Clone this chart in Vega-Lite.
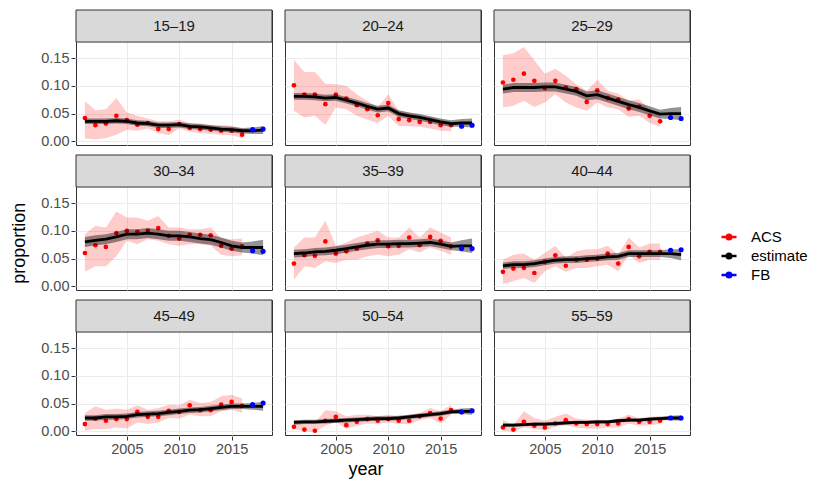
{
  "$schema": "https://vega.github.io/schema/vega-lite/v6.json",
  "description": "Proportion by age group and year: ACS, FB and smoothed estimate.",
  "background": "#ffffff",
  "padding": {"left": 10, "top": 8, "right": 0, "bottom": 0},
  "title": {"text": "proportion", "orient": "left", "anchor": "middle", "offset": 12, "font": "Liberation Sans", "fontSize": 18, "fontWeight": "normal", "color": "#000000"},
  "vconcat": [{
  "title": {"text": "year", "orient": "bottom", "anchor": "middle", "offset": 5, "font": "Liberation Sans", "fontSize": 18, "fontWeight": "normal", "color": "#000000"},
  "data": {"values": [
    {"age":"15–19","year":2001,"kind":"estimate","value":0.036,"lo":0.031,"hi":0.041},
    {"age":"15–19","year":2002,"kind":"estimate","value":0.036,"lo":0.031,"hi":0.041},
    {"age":"15–19","year":2003,"kind":"estimate","value":0.036,"lo":0.031,"hi":0.041},
    {"age":"15–19","year":2004,"kind":"estimate","value":0.037,"lo":0.032,"hi":0.042},
    {"age":"15–19","year":2005,"kind":"estimate","value":0.036,"lo":0.031,"hi":0.041},
    {"age":"15–19","year":2006,"kind":"estimate","value":0.033,"lo":0.028,"hi":0.038},
    {"age":"15–19","year":2007,"kind":"estimate","value":0.032,"lo":0.027,"hi":0.037},
    {"age":"15–19","year":2008,"kind":"estimate","value":0.029,"lo":0.024,"hi":0.034},
    {"age":"15–19","year":2009,"kind":"estimate","value":0.029,"lo":0.024,"hi":0.034},
    {"age":"15–19","year":2010,"kind":"estimate","value":0.030,"lo":0.025,"hi":0.035},
    {"age":"15–19","year":2011,"kind":"estimate","value":0.027,"lo":0.022,"hi":0.032},
    {"age":"15–19","year":2012,"kind":"estimate","value":0.026,"lo":0.021,"hi":0.031},
    {"age":"15–19","year":2013,"kind":"estimate","value":0.024,"lo":0.019,"hi":0.029},
    {"age":"15–19","year":2014,"kind":"estimate","value":0.022,"lo":0.017,"hi":0.027},
    {"age":"15–19","year":2015,"kind":"estimate","value":0.021,"lo":0.016,"hi":0.026},
    {"age":"15–19","year":2016,"kind":"estimate","value":0.019,"lo":0.014,"hi":0.024},
    {"age":"15–19","year":2017,"kind":"estimate","value":0.019,"lo":0.013,"hi":0.025},
    {"age":"15–19","year":2018,"kind":"estimate","value":0.020,"lo":0.013,"hi":0.027},
    {"age":"15–19","year":2001,"kind":"ACS","value":0.042,"lo":0.005,"hi":0.072},
    {"age":"15–19","year":2002,"kind":"ACS","value":0.029,"lo":0.003,"hi":0.056},
    {"age":"15–19","year":2003,"kind":"ACS","value":0.032,"lo":0.006,"hi":0.058},
    {"age":"15–19","year":2004,"kind":"ACS","value":0.046,"lo":0.012,"hi":0.078},
    {"age":"15–19","year":2005,"kind":"ACS","value":0.038,"lo":0.021,"hi":0.052},
    {"age":"15–19","year":2006,"kind":"ACS","value":0.030,"lo":0.019,"hi":0.046},
    {"age":"15–19","year":2007,"kind":"ACS","value":0.033,"lo":0.023,"hi":0.041},
    {"age":"15–19","year":2008,"kind":"ACS","value":0.022,"lo":0.015,"hi":0.036},
    {"age":"15–19","year":2009,"kind":"ACS","value":0.022,"lo":0.011,"hi":0.036},
    {"age":"15–19","year":2010,"kind":"ACS","value":0.031,"lo":0.023,"hi":0.039},
    {"age":"15–19","year":2011,"kind":"ACS","value":0.024,"lo":0.017,"hi":0.033},
    {"age":"15–19","year":2012,"kind":"ACS","value":0.022,"lo":0.015,"hi":0.032},
    {"age":"15–19","year":2013,"kind":"ACS","value":0.021,"lo":0.013,"hi":0.030},
    {"age":"15–19","year":2014,"kind":"ACS","value":0.019,"lo":0.012,"hi":0.029},
    {"age":"15–19","year":2015,"kind":"ACS","value":0.019,"lo":0.011,"hi":0.028},
    {"age":"15–19","year":2016,"kind":"ACS","value":0.012,"lo":0.006,"hi":0.023},
    {"age":"15–19","year":2017,"kind":"FB","value":0.021},
    {"age":"15–19","year":2018,"kind":"FB","value":0.022},

    {"age":"20–24","year":2001,"kind":"estimate","value":0.081,"lo":0.075,"hi":0.087},
    {"age":"20–24","year":2002,"kind":"estimate","value":0.081,"lo":0.075,"hi":0.087},
    {"age":"20–24","year":2003,"kind":"estimate","value":0.080,"lo":0.074,"hi":0.086},
    {"age":"20–24","year":2004,"kind":"estimate","value":0.078,"lo":0.072,"hi":0.084},
    {"age":"20–24","year":2005,"kind":"estimate","value":0.079,"lo":0.073,"hi":0.085},
    {"age":"20–24","year":2006,"kind":"estimate","value":0.074,"lo":0.068,"hi":0.080},
    {"age":"20–24","year":2007,"kind":"estimate","value":0.069,"lo":0.063,"hi":0.075},
    {"age":"20–24","year":2008,"kind":"estimate","value":0.063,"lo":0.057,"hi":0.069},
    {"age":"20–24","year":2009,"kind":"estimate","value":0.058,"lo":0.052,"hi":0.064},
    {"age":"20–24","year":2010,"kind":"estimate","value":0.060,"lo":0.054,"hi":0.066},
    {"age":"20–24","year":2011,"kind":"estimate","value":0.050,"lo":0.044,"hi":0.056},
    {"age":"20–24","year":2012,"kind":"estimate","value":0.046,"lo":0.040,"hi":0.052},
    {"age":"20–24","year":2013,"kind":"estimate","value":0.043,"lo":0.037,"hi":0.049},
    {"age":"20–24","year":2014,"kind":"estimate","value":0.039,"lo":0.033,"hi":0.045},
    {"age":"20–24","year":2015,"kind":"estimate","value":0.035,"lo":0.029,"hi":0.041},
    {"age":"20–24","year":2016,"kind":"estimate","value":0.032,"lo":0.026,"hi":0.038},
    {"age":"20–24","year":2017,"kind":"estimate","value":0.033,"lo":0.026,"hi":0.040},
    {"age":"20–24","year":2018,"kind":"estimate","value":0.033,"lo":0.025,"hi":0.041},
    {"age":"20–24","year":2001,"kind":"ACS","value":0.101,"lo":0.055,"hi":0.147},
    {"age":"20–24","year":2002,"kind":"ACS","value":0.084,"lo":0.043,"hi":0.125},
    {"age":"20–24","year":2003,"kind":"ACS","value":0.084,"lo":0.046,"hi":0.125},
    {"age":"20–24","year":2004,"kind":"ACS","value":0.067,"lo":0.030,"hi":0.104},
    {"age":"20–24","year":2005,"kind":"ACS","value":0.084,"lo":0.061,"hi":0.103},
    {"age":"20–24","year":2006,"kind":"ACS","value":0.077,"lo":0.058,"hi":0.100},
    {"age":"20–24","year":2007,"kind":"ACS","value":0.065,"lo":0.046,"hi":0.085},
    {"age":"20–24","year":2008,"kind":"ACS","value":0.058,"lo":0.039,"hi":0.073},
    {"age":"20–24","year":2009,"kind":"ACS","value":0.047,"lo":0.033,"hi":0.061},
    {"age":"20–24","year":2010,"kind":"ACS","value":0.069,"lo":0.046,"hi":0.085},
    {"age":"20–24","year":2011,"kind":"ACS","value":0.040,"lo":0.027,"hi":0.055},
    {"age":"20–24","year":2012,"kind":"ACS","value":0.038,"lo":0.027,"hi":0.052},
    {"age":"20–24","year":2013,"kind":"ACS","value":0.035,"lo":0.026,"hi":0.047},
    {"age":"20–24","year":2014,"kind":"ACS","value":0.035,"lo":0.023,"hi":0.044},
    {"age":"20–24","year":2015,"kind":"ACS","value":0.029,"lo":0.019,"hi":0.039},
    {"age":"20–24","year":2016,"kind":"ACS","value":0.029,"lo":0.018,"hi":0.036},
    {"age":"20–24","year":2017,"kind":"FB","value":0.027},
    {"age":"20–24","year":2018,"kind":"FB","value":0.029},

    {"age":"25–29","year":2001,"kind":"estimate","value":0.094,"lo":0.086,"hi":0.102},
    {"age":"25–29","year":2002,"kind":"estimate","value":0.097,"lo":0.089,"hi":0.105},
    {"age":"25–29","year":2003,"kind":"estimate","value":0.097,"lo":0.089,"hi":0.105},
    {"age":"25–29","year":2004,"kind":"estimate","value":0.097,"lo":0.089,"hi":0.105},
    {"age":"25–29","year":2005,"kind":"estimate","value":0.098,"lo":0.090,"hi":0.106},
    {"age":"25–29","year":2006,"kind":"estimate","value":0.098,"lo":0.090,"hi":0.106},
    {"age":"25–29","year":2007,"kind":"estimate","value":0.094,"lo":0.086,"hi":0.102},
    {"age":"25–29","year":2008,"kind":"estimate","value":0.090,"lo":0.082,"hi":0.098},
    {"age":"25–29","year":2009,"kind":"estimate","value":0.082,"lo":0.074,"hi":0.090},
    {"age":"25–29","year":2010,"kind":"estimate","value":0.084,"lo":0.076,"hi":0.092},
    {"age":"25–29","year":2011,"kind":"estimate","value":0.078,"lo":0.070,"hi":0.086},
    {"age":"25–29","year":2012,"kind":"estimate","value":0.072,"lo":0.064,"hi":0.080},
    {"age":"25–29","year":2013,"kind":"estimate","value":0.066,"lo":0.058,"hi":0.074},
    {"age":"25–29","year":2014,"kind":"estimate","value":0.061,"lo":0.053,"hi":0.069},
    {"age":"25–29","year":2015,"kind":"estimate","value":0.055,"lo":0.047,"hi":0.063},
    {"age":"25–29","year":2016,"kind":"estimate","value":0.049,"lo":0.041,"hi":0.057},
    {"age":"25–29","year":2017,"kind":"estimate","value":0.050,"lo":0.040,"hi":0.060},
    {"age":"25–29","year":2018,"kind":"estimate","value":0.050,"lo":0.038,"hi":0.062},
    {"age":"25–29","year":2001,"kind":"ACS","value":0.106,"lo":0.061,"hi":0.155},
    {"age":"25–29","year":2002,"kind":"ACS","value":0.111,"lo":0.064,"hi":0.159},
    {"age":"25–29","year":2003,"kind":"ACS","value":0.122,"lo":0.073,"hi":0.170},
    {"age":"25–29","year":2004,"kind":"ACS","value":0.109,"lo":0.062,"hi":0.146},
    {"age":"25–29","year":2005,"kind":"ACS","value":0.096,"lo":0.070,"hi":0.122},
    {"age":"25–29","year":2006,"kind":"ACS","value":0.109,"lo":0.085,"hi":0.131},
    {"age":"25–29","year":2007,"kind":"ACS","value":0.097,"lo":0.070,"hi":0.118},
    {"age":"25–29","year":2008,"kind":"ACS","value":0.094,"lo":0.061,"hi":0.103},
    {"age":"25–29","year":2009,"kind":"ACS","value":0.071,"lo":0.055,"hi":0.091},
    {"age":"25–29","year":2010,"kind":"ACS","value":0.092,"lo":0.070,"hi":0.111},
    {"age":"25–29","year":2011,"kind":"ACS","value":0.078,"lo":0.061,"hi":0.091},
    {"age":"25–29","year":2012,"kind":"ACS","value":0.075,"lo":0.058,"hi":0.086},
    {"age":"25–29","year":2013,"kind":"ACS","value":0.059,"lo":0.044,"hi":0.073},
    {"age":"25–29","year":2014,"kind":"ACS","value":0.062,"lo":0.046,"hi":0.076},
    {"age":"25–29","year":2015,"kind":"ACS","value":0.046,"lo":0.033,"hi":0.058},
    {"age":"25–29","year":2016,"kind":"ACS","value":0.036,"lo":0.026,"hi":0.052},
    {"age":"25–29","year":2017,"kind":"FB","value":0.043},
    {"age":"25–29","year":2018,"kind":"FB","value":0.041},

    {"age":"30–34","year":2001,"kind":"estimate","value":0.080,"lo":0.071,"hi":0.089},
    {"age":"30–34","year":2002,"kind":"estimate","value":0.083,"lo":0.074,"hi":0.092},
    {"age":"30–34","year":2003,"kind":"estimate","value":0.085,"lo":0.076,"hi":0.094},
    {"age":"30–34","year":2004,"kind":"estimate","value":0.089,"lo":0.080,"hi":0.098},
    {"age":"30–34","year":2005,"kind":"estimate","value":0.094,"lo":0.085,"hi":0.103},
    {"age":"30–34","year":2006,"kind":"estimate","value":0.094,"lo":0.085,"hi":0.103},
    {"age":"30–34","year":2007,"kind":"estimate","value":0.096,"lo":0.087,"hi":0.105},
    {"age":"30–34","year":2008,"kind":"estimate","value":0.094,"lo":0.085,"hi":0.103},
    {"age":"30–34","year":2009,"kind":"estimate","value":0.091,"lo":0.082,"hi":0.100},
    {"age":"30–34","year":2010,"kind":"estimate","value":0.091,"lo":0.082,"hi":0.100},
    {"age":"30–34","year":2011,"kind":"estimate","value":0.089,"lo":0.080,"hi":0.098},
    {"age":"30–34","year":2012,"kind":"estimate","value":0.086,"lo":0.077,"hi":0.095},
    {"age":"30–34","year":2013,"kind":"estimate","value":0.084,"lo":0.075,"hi":0.093},
    {"age":"30–34","year":2014,"kind":"estimate","value":0.079,"lo":0.070,"hi":0.088},
    {"age":"30–34","year":2015,"kind":"estimate","value":0.073,"lo":0.064,"hi":0.082},
    {"age":"30–34","year":2016,"kind":"estimate","value":0.070,"lo":0.061,"hi":0.079},
    {"age":"30–34","year":2017,"kind":"estimate","value":0.070,"lo":0.059,"hi":0.081},
    {"age":"30–34","year":2018,"kind":"estimate","value":0.070,"lo":0.056,"hi":0.084},
    {"age":"30–34","year":2001,"kind":"ACS","value":0.060,"lo":0.026,"hi":0.094},
    {"age":"30–34","year":2002,"kind":"ACS","value":0.074,"lo":0.036,"hi":0.109},
    {"age":"30–34","year":2003,"kind":"ACS","value":0.071,"lo":0.036,"hi":0.106},
    {"age":"30–34","year":2004,"kind":"ACS","value":0.096,"lo":0.054,"hi":0.135},
    {"age":"30–34","year":2005,"kind":"ACS","value":0.100,"lo":0.082,"hi":0.124},
    {"age":"30–34","year":2006,"kind":"ACS","value":0.098,"lo":0.076,"hi":0.124},
    {"age":"30–34","year":2007,"kind":"ACS","value":0.100,"lo":0.085,"hi":0.118},
    {"age":"30–34","year":2008,"kind":"ACS","value":0.105,"lo":0.082,"hi":0.127},
    {"age":"30–34","year":2009,"kind":"ACS","value":0.091,"lo":0.076,"hi":0.106},
    {"age":"30–34","year":2010,"kind":"ACS","value":0.086,"lo":0.073,"hi":0.106},
    {"age":"30–34","year":2011,"kind":"ACS","value":0.093,"lo":0.076,"hi":0.103},
    {"age":"30–34","year":2012,"kind":"ACS","value":0.093,"lo":0.076,"hi":0.103},
    {"age":"30–34","year":2013,"kind":"ACS","value":0.092,"lo":0.073,"hi":0.106},
    {"age":"30–34","year":2014,"kind":"ACS","value":0.073,"lo":0.057,"hi":0.087},
    {"age":"30–34","year":2015,"kind":"ACS","value":0.068,"lo":0.054,"hi":0.085},
    {"age":"30–34","year":2016,"kind":"ACS","value":0.072,"lo":0.056,"hi":0.086},
    {"age":"30–34","year":2017,"kind":"FB","value":0.064},
    {"age":"30–34","year":2018,"kind":"FB","value":0.063},

    {"age":"35–39","year":2001,"kind":"estimate","value":0.059,"lo":0.052,"hi":0.066},
    {"age":"35–39","year":2002,"kind":"estimate","value":0.060,"lo":0.053,"hi":0.067},
    {"age":"35–39","year":2003,"kind":"estimate","value":0.062,"lo":0.055,"hi":0.069},
    {"age":"35–39","year":2004,"kind":"estimate","value":0.063,"lo":0.056,"hi":0.070},
    {"age":"35–39","year":2005,"kind":"estimate","value":0.065,"lo":0.058,"hi":0.072},
    {"age":"35–39","year":2006,"kind":"estimate","value":0.068,"lo":0.061,"hi":0.075},
    {"age":"35–39","year":2007,"kind":"estimate","value":0.071,"lo":0.064,"hi":0.078},
    {"age":"35–39","year":2008,"kind":"estimate","value":0.074,"lo":0.067,"hi":0.081},
    {"age":"35–39","year":2009,"kind":"estimate","value":0.076,"lo":0.069,"hi":0.083},
    {"age":"35–39","year":2010,"kind":"estimate","value":0.076,"lo":0.069,"hi":0.083},
    {"age":"35–39","year":2011,"kind":"estimate","value":0.077,"lo":0.070,"hi":0.084},
    {"age":"35–39","year":2012,"kind":"estimate","value":0.077,"lo":0.070,"hi":0.084},
    {"age":"35–39","year":2013,"kind":"estimate","value":0.078,"lo":0.071,"hi":0.085},
    {"age":"35–39","year":2014,"kind":"estimate","value":0.079,"lo":0.072,"hi":0.086},
    {"age":"35–39","year":2015,"kind":"estimate","value":0.076,"lo":0.069,"hi":0.083},
    {"age":"35–39","year":2016,"kind":"estimate","value":0.072,"lo":0.065,"hi":0.079},
    {"age":"35–39","year":2017,"kind":"estimate","value":0.073,"lo":0.063,"hi":0.083},
    {"age":"35–39","year":2018,"kind":"estimate","value":0.073,"lo":0.060,"hi":0.086},
    {"age":"35–39","year":2001,"kind":"ACS","value":0.041,"lo":0.012,"hi":0.070},
    {"age":"35–39","year":2002,"kind":"ACS","value":0.056,"lo":0.036,"hi":0.088},
    {"age":"35–39","year":2003,"kind":"ACS","value":0.055,"lo":0.033,"hi":0.088},
    {"age":"35–39","year":2004,"kind":"ACS","value":0.081,"lo":0.045,"hi":0.118},
    {"age":"35–39","year":2005,"kind":"ACS","value":0.059,"lo":0.042,"hi":0.073},
    {"age":"35–39","year":2006,"kind":"ACS","value":0.063,"lo":0.048,"hi":0.079},
    {"age":"35–39","year":2007,"kind":"ACS","value":0.068,"lo":0.048,"hi":0.088},
    {"age":"35–39","year":2008,"kind":"ACS","value":0.077,"lo":0.054,"hi":0.094},
    {"age":"35–39","year":2009,"kind":"ACS","value":0.083,"lo":0.057,"hi":0.100},
    {"age":"35–39","year":2010,"kind":"ACS","value":0.072,"lo":0.054,"hi":0.088},
    {"age":"35–39","year":2011,"kind":"ACS","value":0.073,"lo":0.057,"hi":0.088},
    {"age":"35–39","year":2012,"kind":"ACS","value":0.088,"lo":0.067,"hi":0.106},
    {"age":"35–39","year":2013,"kind":"ACS","value":0.074,"lo":0.061,"hi":0.088},
    {"age":"35–39","year":2014,"kind":"ACS","value":0.089,"lo":0.070,"hi":0.106},
    {"age":"35–39","year":2015,"kind":"ACS","value":0.082,"lo":0.064,"hi":0.097},
    {"age":"35–39","year":2016,"kind":"ACS","value":0.072,"lo":0.057,"hi":0.088},
    {"age":"35–39","year":2017,"kind":"FB","value":0.068},
    {"age":"35–39","year":2018,"kind":"FB","value":0.068},

    {"age":"40–44","year":2001,"kind":"estimate","value":0.037,"lo":0.031,"hi":0.043},
    {"age":"40–44","year":2002,"kind":"estimate","value":0.039,"lo":0.033,"hi":0.045},
    {"age":"40–44","year":2003,"kind":"estimate","value":0.039,"lo":0.033,"hi":0.045},
    {"age":"40–44","year":2004,"kind":"estimate","value":0.041,"lo":0.035,"hi":0.047},
    {"age":"40–44","year":2005,"kind":"estimate","value":0.044,"lo":0.038,"hi":0.050},
    {"age":"40–44","year":2006,"kind":"estimate","value":0.047,"lo":0.041,"hi":0.053},
    {"age":"40–44","year":2007,"kind":"estimate","value":0.048,"lo":0.042,"hi":0.054},
    {"age":"40–44","year":2008,"kind":"estimate","value":0.048,"lo":0.042,"hi":0.054},
    {"age":"40–44","year":2009,"kind":"estimate","value":0.050,"lo":0.044,"hi":0.056},
    {"age":"40–44","year":2010,"kind":"estimate","value":0.051,"lo":0.045,"hi":0.057},
    {"age":"40–44","year":2011,"kind":"estimate","value":0.053,"lo":0.047,"hi":0.059},
    {"age":"40–44","year":2012,"kind":"estimate","value":0.054,"lo":0.048,"hi":0.060},
    {"age":"40–44","year":2013,"kind":"estimate","value":0.059,"lo":0.053,"hi":0.065},
    {"age":"40–44","year":2014,"kind":"estimate","value":0.059,"lo":0.053,"hi":0.065},
    {"age":"40–44","year":2015,"kind":"estimate","value":0.059,"lo":0.053,"hi":0.065},
    {"age":"40–44","year":2016,"kind":"estimate","value":0.059,"lo":0.053,"hi":0.065},
    {"age":"40–44","year":2017,"kind":"estimate","value":0.059,"lo":0.051,"hi":0.067},
    {"age":"40–44","year":2018,"kind":"estimate","value":0.057,"lo":0.047,"hi":0.067},
    {"age":"40–44","year":2001,"kind":"ACS","value":0.026,"lo":0.004,"hi":0.048},
    {"age":"40–44","year":2002,"kind":"ACS","value":0.032,"lo":0.009,"hi":0.057},
    {"age":"40–44","year":2003,"kind":"ACS","value":0.033,"lo":0.015,"hi":0.059},
    {"age":"40–44","year":2004,"kind":"ACS","value":0.024,"lo":0.006,"hi":0.048},
    {"age":"40–44","year":2005,"kind":"ACS","value":0.044,"lo":0.027,"hi":0.060},
    {"age":"40–44","year":2006,"kind":"ACS","value":0.056,"lo":0.036,"hi":0.073},
    {"age":"40–44","year":2007,"kind":"ACS","value":0.037,"lo":0.026,"hi":0.051},
    {"age":"40–44","year":2008,"kind":"ACS","value":0.048,"lo":0.033,"hi":0.063},
    {"age":"40–44","year":2009,"kind":"ACS","value":0.048,"lo":0.033,"hi":0.067},
    {"age":"40–44","year":2010,"kind":"ACS","value":0.050,"lo":0.036,"hi":0.067},
    {"age":"40–44","year":2011,"kind":"ACS","value":0.059,"lo":0.039,"hi":0.073},
    {"age":"40–44","year":2012,"kind":"ACS","value":0.041,"lo":0.027,"hi":0.057},
    {"age":"40–44","year":2013,"kind":"ACS","value":0.071,"lo":0.057,"hi":0.088},
    {"age":"40–44","year":2014,"kind":"ACS","value":0.054,"lo":0.042,"hi":0.070},
    {"age":"40–44","year":2015,"kind":"ACS","value":0.062,"lo":0.048,"hi":0.077},
    {"age":"40–44","year":2016,"kind":"ACS","value":0.062,"lo":0.048,"hi":0.077},
    {"age":"40–44","year":2017,"kind":"FB","value":0.065},
    {"age":"40–44","year":2018,"kind":"FB","value":0.066},

    {"age":"45–49","year":2001,"kind":"estimate","value":0.024,"lo":0.019,"hi":0.029},
    {"age":"45–49","year":2002,"kind":"estimate","value":0.024,"lo":0.019,"hi":0.029},
    {"age":"45–49","year":2003,"kind":"estimate","value":0.026,"lo":0.021,"hi":0.031},
    {"age":"45–49","year":2004,"kind":"estimate","value":0.026,"lo":0.021,"hi":0.031},
    {"age":"45–49","year":2005,"kind":"estimate","value":0.027,"lo":0.022,"hi":0.032},
    {"age":"45–49","year":2006,"kind":"estimate","value":0.030,"lo":0.025,"hi":0.035},
    {"age":"45–49","year":2007,"kind":"estimate","value":0.031,"lo":0.026,"hi":0.036},
    {"age":"45–49","year":2008,"kind":"estimate","value":0.032,"lo":0.027,"hi":0.037},
    {"age":"45–49","year":2009,"kind":"estimate","value":0.034,"lo":0.029,"hi":0.039},
    {"age":"45–49","year":2010,"kind":"estimate","value":0.036,"lo":0.031,"hi":0.041},
    {"age":"45–49","year":2011,"kind":"estimate","value":0.038,"lo":0.033,"hi":0.043},
    {"age":"45–49","year":2012,"kind":"estimate","value":0.039,"lo":0.034,"hi":0.044},
    {"age":"45–49","year":2013,"kind":"estimate","value":0.041,"lo":0.036,"hi":0.046},
    {"age":"45–49","year":2014,"kind":"estimate","value":0.043,"lo":0.038,"hi":0.048},
    {"age":"45–49","year":2015,"kind":"estimate","value":0.045,"lo":0.040,"hi":0.050},
    {"age":"45–49","year":2016,"kind":"estimate","value":0.045,"lo":0.040,"hi":0.050},
    {"age":"45–49","year":2017,"kind":"estimate","value":0.045,"lo":0.039,"hi":0.051},
    {"age":"45–49","year":2018,"kind":"estimate","value":0.045,"lo":0.037,"hi":0.053},
    {"age":"45–49","year":2001,"kind":"ACS","value":0.013,"lo":0.001,"hi":0.033},
    {"age":"45–49","year":2002,"kind":"ACS","value":0.023,"lo":0.004,"hi":0.045},
    {"age":"45–49","year":2003,"kind":"ACS","value":0.019,"lo":0.004,"hi":0.039},
    {"age":"45–49","year":2004,"kind":"ACS","value":0.022,"lo":0.007,"hi":0.041},
    {"age":"45–49","year":2005,"kind":"ACS","value":0.022,"lo":0.005,"hi":0.039},
    {"age":"45–49","year":2006,"kind":"ACS","value":0.035,"lo":0.016,"hi":0.047},
    {"age":"45–49","year":2007,"kind":"ACS","value":0.026,"lo":0.013,"hi":0.039},
    {"age":"45–49","year":2008,"kind":"ACS","value":0.026,"lo":0.016,"hi":0.042},
    {"age":"45–49","year":2009,"kind":"ACS","value":0.037,"lo":0.024,"hi":0.048},
    {"age":"45–49","year":2010,"kind":"ACS","value":0.035,"lo":0.023,"hi":0.047},
    {"age":"45–49","year":2011,"kind":"ACS","value":0.047,"lo":0.030,"hi":0.057},
    {"age":"45–49","year":2012,"kind":"ACS","value":0.038,"lo":0.027,"hi":0.051},
    {"age":"45–49","year":2013,"kind":"ACS","value":0.038,"lo":0.027,"hi":0.053},
    {"age":"45–49","year":2014,"kind":"ACS","value":0.048,"lo":0.036,"hi":0.063},
    {"age":"45–49","year":2015,"kind":"ACS","value":0.053,"lo":0.039,"hi":0.066},
    {"age":"45–49","year":2016,"kind":"ACS","value":0.046,"lo":0.033,"hi":0.059},
    {"age":"45–49","year":2017,"kind":"FB","value":0.048},
    {"age":"45–49","year":2018,"kind":"FB","value":0.051},

    {"age":"50–54","year":2001,"kind":"estimate","value":0.016,"lo":0.012,"hi":0.020},
    {"age":"50–54","year":2002,"kind":"estimate","value":0.017,"lo":0.013,"hi":0.021},
    {"age":"50–54","year":2003,"kind":"estimate","value":0.017,"lo":0.013,"hi":0.021},
    {"age":"50–54","year":2004,"kind":"estimate","value":0.018,"lo":0.014,"hi":0.022},
    {"age":"50–54","year":2005,"kind":"estimate","value":0.019,"lo":0.015,"hi":0.023},
    {"age":"50–54","year":2006,"kind":"estimate","value":0.020,"lo":0.016,"hi":0.024},
    {"age":"50–54","year":2007,"kind":"estimate","value":0.021,"lo":0.017,"hi":0.025},
    {"age":"50–54","year":2008,"kind":"estimate","value":0.022,"lo":0.018,"hi":0.026},
    {"age":"50–54","year":2009,"kind":"estimate","value":0.023,"lo":0.019,"hi":0.027},
    {"age":"50–54","year":2010,"kind":"estimate","value":0.023,"lo":0.019,"hi":0.027},
    {"age":"50–54","year":2011,"kind":"estimate","value":0.024,"lo":0.020,"hi":0.028},
    {"age":"50–54","year":2012,"kind":"estimate","value":0.026,"lo":0.022,"hi":0.030},
    {"age":"50–54","year":2013,"kind":"estimate","value":0.028,"lo":0.024,"hi":0.032},
    {"age":"50–54","year":2014,"kind":"estimate","value":0.030,"lo":0.026,"hi":0.034},
    {"age":"50–54","year":2015,"kind":"estimate","value":0.032,"lo":0.028,"hi":0.036},
    {"age":"50–54","year":2016,"kind":"estimate","value":0.035,"lo":0.031,"hi":0.039},
    {"age":"50–54","year":2017,"kind":"estimate","value":0.036,"lo":0.031,"hi":0.041},
    {"age":"50–54","year":2018,"kind":"estimate","value":0.036,"lo":0.030,"hi":0.042},
    {"age":"50–54","year":2001,"kind":"ACS","value":0.008,"lo":0.004,"hi":0.020},
    {"age":"50–54","year":2002,"kind":"ACS","value":0.003,"lo":0.000,"hi":0.016},
    {"age":"50–54","year":2003,"kind":"ACS","value":0.001,"lo":-0.001,"hi":0.016},
    {"age":"50–54","year":2004,"kind":"ACS","value":0.019,"lo":0.010,"hi":0.038},
    {"age":"50–54","year":2005,"kind":"ACS","value":0.026,"lo":0.017,"hi":0.036},
    {"age":"50–54","year":2006,"kind":"ACS","value":0.011,"lo":0.004,"hi":0.027},
    {"age":"50–54","year":2007,"kind":"ACS","value":0.017,"lo":0.010,"hi":0.030},
    {"age":"50–54","year":2008,"kind":"ACS","value":0.022,"lo":0.014,"hi":0.030},
    {"age":"50–54","year":2009,"kind":"ACS","value":0.019,"lo":0.013,"hi":0.027},
    {"age":"50–54","year":2010,"kind":"ACS","value":0.022,"lo":0.016,"hi":0.030},
    {"age":"50–54","year":2011,"kind":"ACS","value":0.019,"lo":0.013,"hi":0.027},
    {"age":"50–54","year":2012,"kind":"ACS","value":0.019,"lo":0.013,"hi":0.030},
    {"age":"50–54","year":2013,"kind":"ACS","value":0.027,"lo":0.020,"hi":0.033},
    {"age":"50–54","year":2014,"kind":"ACS","value":0.033,"lo":0.024,"hi":0.042},
    {"age":"50–54","year":2015,"kind":"ACS","value":0.023,"lo":0.014,"hi":0.036},
    {"age":"50–54","year":2016,"kind":"ACS","value":0.038,"lo":0.030,"hi":0.048},
    {"age":"50–54","year":2017,"kind":"FB","value":0.035},
    {"age":"50–54","year":2018,"kind":"FB","value":0.037},

    {"age":"55–59","year":2001,"kind":"estimate","value":0.011,"lo":0.008,"hi":0.014},
    {"age":"55–59","year":2002,"kind":"estimate","value":0.011,"lo":0.008,"hi":0.014},
    {"age":"55–59","year":2003,"kind":"estimate","value":0.012,"lo":0.009,"hi":0.015},
    {"age":"55–59","year":2004,"kind":"estimate","value":0.013,"lo":0.010,"hi":0.016},
    {"age":"55–59","year":2005,"kind":"estimate","value":0.013,"lo":0.010,"hi":0.016},
    {"age":"55–59","year":2006,"kind":"estimate","value":0.014,"lo":0.011,"hi":0.017},
    {"age":"55–59","year":2007,"kind":"estimate","value":0.015,"lo":0.012,"hi":0.018},
    {"age":"55–59","year":2008,"kind":"estimate","value":0.016,"lo":0.013,"hi":0.019},
    {"age":"55–59","year":2009,"kind":"estimate","value":0.016,"lo":0.013,"hi":0.019},
    {"age":"55–59","year":2010,"kind":"estimate","value":0.017,"lo":0.014,"hi":0.020},
    {"age":"55–59","year":2011,"kind":"estimate","value":0.017,"lo":0.014,"hi":0.020},
    {"age":"55–59","year":2012,"kind":"estimate","value":0.019,"lo":0.016,"hi":0.022},
    {"age":"55–59","year":2013,"kind":"estimate","value":0.020,"lo":0.017,"hi":0.023},
    {"age":"55–59","year":2014,"kind":"estimate","value":0.020,"lo":0.017,"hi":0.023},
    {"age":"55–59","year":2015,"kind":"estimate","value":0.022,"lo":0.019,"hi":0.025},
    {"age":"55–59","year":2016,"kind":"estimate","value":0.023,"lo":0.020,"hi":0.026},
    {"age":"55–59","year":2017,"kind":"estimate","value":0.024,"lo":0.020,"hi":0.028},
    {"age":"55–59","year":2018,"kind":"estimate","value":0.024,"lo":0.019,"hi":0.029},
    {"age":"55–59","year":2001,"kind":"ACS","value":0.007,"lo":0.001,"hi":0.021},
    {"age":"55–59","year":2002,"kind":"ACS","value":0.003,"lo":-0.001,"hi":0.011},
    {"age":"55–59","year":2003,"kind":"ACS","value":0.017,"lo":0.007,"hi":0.036},
    {"age":"55–59","year":2004,"kind":"ACS","value":0.010,"lo":0.004,"hi":0.024},
    {"age":"55–59","year":2005,"kind":"ACS","value":0.007,"lo":0.002,"hi":0.019},
    {"age":"55–59","year":2006,"kind":"ACS","value":0.014,"lo":0.008,"hi":0.026},
    {"age":"55–59","year":2007,"kind":"ACS","value":0.020,"lo":0.011,"hi":0.032},
    {"age":"55–59","year":2008,"kind":"ACS","value":0.014,"lo":0.007,"hi":0.023},
    {"age":"55–59","year":2009,"kind":"ACS","value":0.013,"lo":0.005,"hi":0.021},
    {"age":"55–59","year":2010,"kind":"ACS","value":0.013,"lo":0.005,"hi":0.021},
    {"age":"55–59","year":2011,"kind":"ACS","value":0.013,"lo":0.007,"hi":0.020},
    {"age":"55–59","year":2012,"kind":"ACS","value":0.014,"lo":0.007,"hi":0.023},
    {"age":"55–59","year":2013,"kind":"ACS","value":0.022,"lo":0.014,"hi":0.030},
    {"age":"55–59","year":2014,"kind":"ACS","value":0.017,"lo":0.010,"hi":0.024},
    {"age":"55–59","year":2015,"kind":"ACS","value":0.017,"lo":0.011,"hi":0.026},
    {"age":"55–59","year":2016,"kind":"ACS","value":0.019,"lo":0.013,"hi":0.027},
    {"age":"55–59","year":2017,"kind":"FB","value":0.024},
    {"age":"55–59","year":2018,"kind":"FB","value":0.024}
  ]},
  "columns": 3,
  "spacing": {"row": 7, "column": 11},
  "facet": {"field": "age", "type": "ordinal", "header": {"labels": false, "labelExpr": "''", "labelFontSize": 1, "labelPadding": 0, "title": null}},
  "spec": {
    "width": 196,
    "height": 135,
    "layer": [
      {
        "transform": [{"filter": "datum.kind == 'ACS'"}],
        "mark": {"type": "area", "color": "#FF0000", "opacity": 0.2},
        "encoding": {
          "x": {
            "field": "year", "type": "quantitative", "title": null,
            "scale": {"domain": [2000.15, 2018.85], "nice": false, "zero": false},
            "axis": {
              "title": null, "domain": false,
              "values": [2005, 2010, 2015],
              "format": "d",
              "labelOverlap": false, "labelFlush": false,
              "labelFont": "Liberation Sans", "labelFontSize": 14.5, "labelColor": "#4D4D4D", "labelPadding": 2,
              "tickSize": 4, "tickColor": "#333333",
              "gridColor": "#EBEBEB", "gridWidth": 1
            }
          },
          "y": {
            "field": "lo", "type": "quantitative", "title": null,
            "scale": {"domain": [-0.0067, 0.2368], "nice": false, "zero": false},
            "axis": {
              "title": null, "domain": false,
              "values": [0, 0.025, 0.05, 0.075, 0.1, 0.125, 0.15, 0.175],
              "labelExpr": "round(datum.value * 1000) % 50 == 0 ? format(datum.value, '.2f') : ''",
              "labelOverlap": false, "labelFlush": false,
              "labelFont": "Liberation Sans", "labelFontSize": 14.5, "labelColor": "#4D4D4D", "labelPadding": 2,
              "tickSize": 4, "tickColor": "#333333",
              "tickOpacity": {"condition": {"test": "round(datum.value * 1000) % 50 == 0", "value": 1}, "value": 0},
              "gridColor": {"condition": {"test": "round(datum.value * 1000) % 50 == 0", "value": "#EBEBEB"}, "value": "#F3F3F3"},
              "gridWidth": 1
            }
          },
          "y2": {"field": "hi"}
        }
      },
      {
        "transform": [{"filter": "datum.kind == 'ACS'"}],
        "mark": {"type": "circle", "size": 22, "opacity": 1},
        "encoding": {
          "x": {"field": "year", "type": "quantitative", "title": null},
          "y": {"field": "value", "type": "quantitative", "title": null},
          "color": {
            "field": "kind", "type": "nominal",
            "scale": {"domain": ["ACS", "estimate", "FB"], "range": ["#FF0000", "#000000", "#0000FF"]},
            "legend": {
              "title": null, "orient": "none", "legendX": 644, "legendY": 218,
              "labelFont": "Liberation Sans", "labelFontSize": 15, "labelColor": "#000000",
              "symbolType": "M-1,0L1,0M0.3,0A0.3,0.3,0,1,1,-0.3,0A0.3,0.3,0,1,1,0.3,0Z",
              "symbolSize": 225, "symbolStrokeWidth": 2.5, "rowPadding": 2, "labelOffset": 13,
              "encode": {"symbols": {"update": {
                "fill": {"scale": "color", "field": "value"},
                "stroke": {"scale": "color", "field": "value"},
                "opacity": {"value": 1}
              }}}
            }
          }
        }
      },
      {
        "transform": [{"filter": "datum.kind == 'estimate'"}],
        "mark": {"type": "area", "color": "#000000", "opacity": 0.42},
        "encoding": {
          "x": {"field": "year", "type": "quantitative", "title": null},
          "y": {"field": "lo", "type": "quantitative", "title": null},
          "y2": {"field": "hi"}
        }
      },
      {
        "transform": [{"filter": "datum.kind == 'estimate'"}],
        "mark": {"type": "line", "strokeWidth": 2.8},
        "encoding": {
          "x": {"field": "year", "type": "quantitative", "title": null},
          "y": {"field": "value", "type": "quantitative", "title": null},
          "color": {"field": "kind", "type": "nominal"}
        }
      },
      {
        "transform": [{"filter": "datum.kind == 'FB'"}],
        "mark": {"type": "circle", "size": 26, "opacity": 1},
        "encoding": {
          "x": {"field": "year", "type": "quantitative", "title": null},
          "y": {"field": "value", "type": "quantitative", "title": null},
          "color": {"field": "kind", "type": "nominal"}
        }
      },
      {
        "transform": [{"filter": "datum.kind == 'estimate' && datum.year == 2001"}],
        "mark": {"type": "rect", "fill": "#D9D9D9", "stroke": "#333333", "strokeWidth": 1},
        "encoding": {
          "x": {"datum": 2000.15, "type": "quantitative", "title": null},
          "x2": {"datum": 2018.85},
          "y": {"datum": 0.179, "type": "quantitative", "title": null},
          "y2": {"datum": 0.2368}
        }
      },
      {
        "transform": [{"filter": "datum.kind == 'estimate' && datum.year == 2001"}],
        "mark": {"type": "text", "font": "Liberation Sans", "fontSize": 15, "color": "#1A1A1A", "baseline": "middle", "align": "center"},
        "encoding": {
          "x": {"datum": 2009.5, "type": "quantitative", "title": null},
          "y": {"datum": 0.2079, "type": "quantitative", "title": null},
          "text": {"field": "age"}
        }
      }
    ]
  }
  }],
  "config": {
    "view": {"stroke": "#333333", "strokeWidth": 1},
    "font": "Liberation Sans"
  }
}
